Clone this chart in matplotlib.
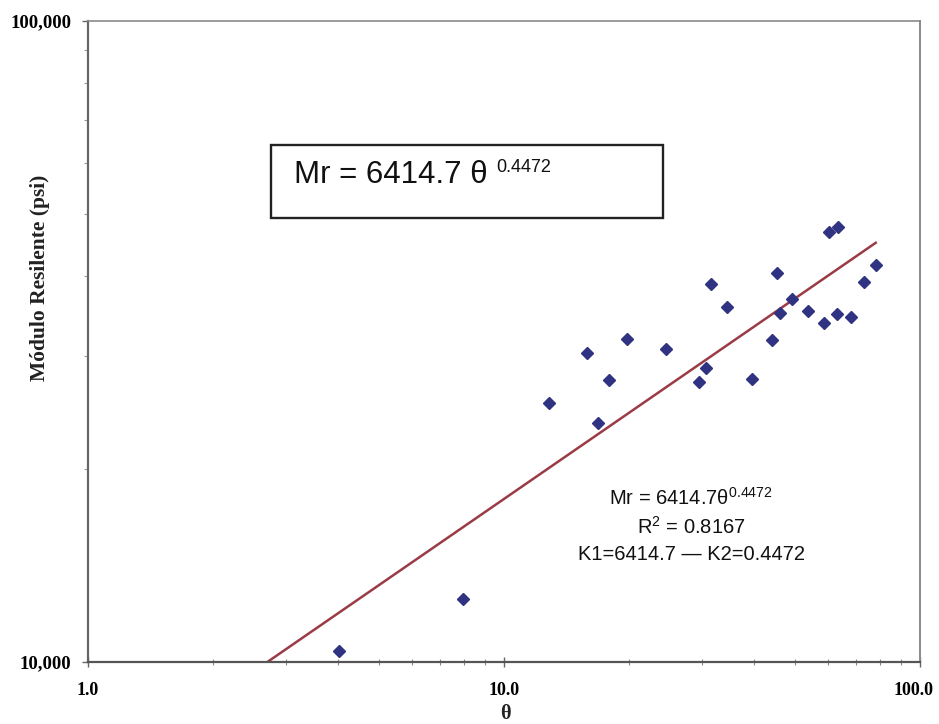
import numpy as np
import matplotlib
matplotlib.use("Agg")
import matplotlib.pyplot as plt
import matplotlib.transforms as mtransforms
from matplotlib.patches import Rectangle
from matplotlib.ticker import FixedLocator, NullFormatter

# theta (psi) vs resilient modulus (psi)
theta = [4.01, 7.97, 12.83, 15.86, 16.85, 17.85, 19.72, 24.51, 29.38, 30.54,
         31.45, 34.30, 39.39, 44.0, 45.24, 46.08, 49.16, 53.89, 58.88, 60.53,
         63.27, 63.63, 68.15, 73.34, 78.27]
mr = [10400, 12540, 25350, 30300, 23570, 27540, 31870, 30740, 27310, 28720,
      38920, 35760, 27610, 31790, 40480, 35070, 36840, 35320, 33810, 46860,
      34940, 47760, 34570, 39150, 41630]
k1, k2 = 6414.7, 0.4472
r2 = 0.8167

x_ticks = [1, 10, 100]
x_labels = ["1.0", "10.0", "100.0"]
y_ticks = [10000, 100000]
y_labels = ["10,000", "100,000"]

W, H = 939, 724
fig = plt.figure(figsize=(W / 100, H / 100), dpi=100)
ax = fig.add_axes([88 / W, 1 - 662 / H, (920 - 88) / W, (662 - 21) / H])

def px(x, y):
    return x / W, 1 - y / H

# power trendline
xs = np.geomspace(1.0, max(theta), 200)
ax.plot(xs, k1 * xs ** k2, color="#9a3b45", lw=1.8, zorder=2)
ax.plot(theta, mr, ls="none", marker="D", ms=6.2, color="#2f3382",
        markeredgecolor="#2f3382", zorder=3)

ax.set_xscale("log"); ax.set_yscale("log")
ax.set_xlim(1, 100); ax.set_ylim(10000, 100000)

serif = dict(family="Liberation Serif", weight="bold")
ax.set_xticks(x_ticks)
ax.set_xticklabels(x_labels, fontsize=13, **serif)
ax.set_yticks(y_ticks)
ax.set_yticklabels(y_labels, fontsize=13.5, **serif)
ax.xaxis.set_minor_locator(FixedLocator([m * d for d in (1, 10) for m in range(2, 10)]))
ax.yaxis.set_minor_locator(FixedLocator([m * 10000 for m in range(2, 10)]))
ax.xaxis.set_minor_formatter(NullFormatter())
ax.yaxis.set_minor_formatter(NullFormatter())
ax.tick_params(axis="x", which="major", direction="inout", length=7, width=1,
               color="#666666", pad=11)
ax.tick_params(axis="x", which="minor", direction="inout", length=4, width=0.8,
               color="#888888")
ax.tick_params(axis="y", which="major", direction="out", length=4, width=1,
               color="#666666", pad=8)
ax.tick_params(axis="y", which="minor", direction="out", length=3, width=0.8,
               color="#999999")
# nudge "100.0" left so it stays inside the canvas
last = ax.get_xticklabels()[-1]
last.set_transform(last.get_transform()
                   + mtransforms.ScaledTranslation(-6 / 100, 0, fig.dpi_scale_trans))

for side, c, w in [("left", "#666666", 1.6), ("bottom", "#555555", 1.6),
                   ("top", "#8a8a8a", 1.2), ("right", "#8a8a8a", 1.4)]:
    ax.spines[side].set_color(c)
    ax.spines[side].set_linewidth(w)

# axis titles
fig.text(*px(40, 278), "Módulo Resilente (psi)", rotation=90, ha="center",
         va="center", fontsize=15.5, color="#222222", **serif)
fig.text(*px(505, 714), "θ", ha="center", va="center", fontsize=14.5,
         color="#222222", **serif)

# equation box
x0, y0 = px(271, 218)
x1, y1 = px(663, 145)
fig.patches.append(Rectangle((x0, y0), x1 - x0, y1 - y0, transform=fig.transFigure,
                             fill=False, edgecolor="#222222", lw=1.7))
main = fig.text(*px(294, 183), "Mr = %.1f θ" % k1, ha="left", va="baseline",
                fontsize=22.5, family="Liberation Sans", color="#111111")
fig.canvas.draw()
bb = main.get_window_extent()
fig.text((bb.x1 + 9) / W, 1 - 172 / H, "%.4f" % k2, ha="left", va="baseline",
         fontsize=13, family="Liberation Sans", color="#111111")

# trendline label
sans = dict(family="Liberation Sans", fontsize=14.5, color="#111111",
            ha="center", va="baseline")
fig.text(*px(691, 505), r"Mr = %.1fθ$^{\mathregular{%.4f}}$" % (k1, k2), **sans)
fig.text(*px(691, 534), r"R$^{\mathregular{2}}$ = %.4f" % r2, **sans)
fig.text(*px(691, 560), "K1=%.1f — K2=%.4f" % (k1, k2), **sans)

fig.savefig("out.png", dpi=100)
